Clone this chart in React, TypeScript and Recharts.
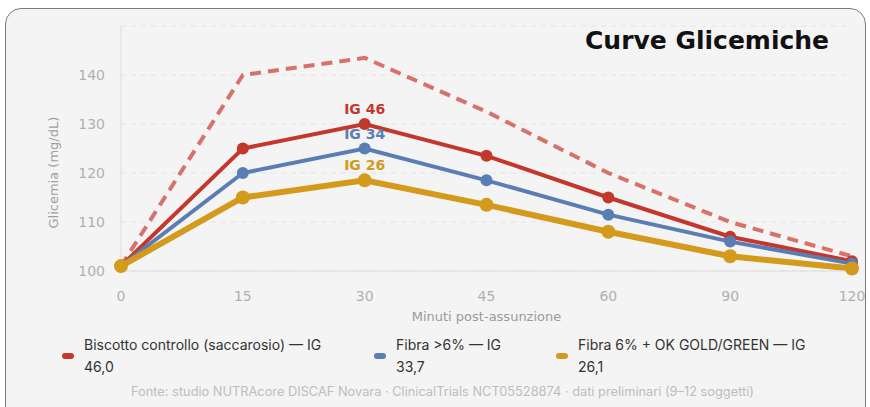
import { CartesianGrid, Line, LineChart, XAxis, YAxis } from "recharts"

const minutes = ["0", "15", "30", "45", "60", "90", "120"]
const riferimento = [101, 140, 143.5, 132.5, 120, 110, 103]
const biscotto = [101, 125, 130, 123.5, 115, 107, 102]
const fibra = [101, 120, 125, 118.5, 111.5, 106, 101.5]
const okGold = [101, 115, 118.5, 113.5, 108, 103, 100.5]
const yTicks = [100, 110, 120, 130, 140]

const series = [
  { key: "biscotto", color: "#c4372c", ig: "IG 46", legend: ["Biscotto controllo (saccarosio) — IG", "46,0"], width: 4, r: 6 },
  { key: "fibra", color: "#5a7db3", ig: "IG 34", legend: ["Fibra >6% — IG", "33,7"], width: 4, r: 6 },
  { key: "okGold", color: "#d39a1c", ig: "IG 26", legend: ["Fibra 6% + OK GOLD/GREEN — IG", "26,1"], width: 6, r: 7 },
]

const data = minutes.map((m, i) => ({
  min: m,
  riferimento: riferimento[i],
  biscotto: biscotto[i],
  fibra: fibra[i],
  okGold: okGold[i],
}))

const legendX = [62, 374, 556]

function peakLabel(text: string, color: string) {
  return (props: any) => {
    if (props.index !== 2) return null
    return (
      <text x={props.x} y={props.y - 10} fill={color} textAnchor="middle" fontSize={14} fontWeight={700} fontFamily="DejaVu Sans">
        {text}
      </text>
    )
  }
}

export default function App() {
  return (
    <div style={{ position: "absolute", left: 0, top: 0, width: 870, height: 407, overflow: "hidden", background: "#fff" }}>
      <div
        style={{
          position: "absolute",
          left: 5,
          top: 8,
          width: 859,
          height: 420,
          border: "1.5px solid #7a7d80",
          borderRadius: 16,
          background: "#f4f4f4",
        }}
      />
      <LineChart
        width={870}
        height={330}
        data={data}
        margin={{ top: 26, right: 18, bottom: 9, left: 61 }}
        style={{ position: "absolute", left: 0, top: 0 }}
      >
        <CartesianGrid vertical={false} stroke="#e4e4e4" strokeDasharray="5 5" />
        <XAxis
          dataKey="min"
          stroke="#dcdcdc"
          tickLine={false}
          tickMargin={14}
          height={50}
          tick={{ fill: "#b0b0b0", fontSize: 14, fontFamily: "DejaVu Sans" }}
          label={{ value: "Minuti post-assunzione", position: "insideBottom", offset: 0, fill: "#9a9a9a", fontSize: 13, fontFamily: "DejaVu Sans" }}
        />
        <YAxis
          domain={[100, 150]}
          ticks={yTicks}
          stroke="#dcdcdc"
          tickLine={false}
          tickMargin={10}
          width={60}
          tick={{ fill: "#b0b0b0", fontSize: 14, fontFamily: "DejaVu Sans" }}
          label={{ value: "Glicemia (mg/dL)", angle: -90, position: "insideLeft", offset: -8, dy: 80, fill: "#a0a0a0", fontSize: 13, fontFamily: "DejaVu Sans" }}
        />
        <Line
          dataKey="riferimento"
          stroke="#d8716a"
          strokeWidth={4}
          strokeDasharray="11 7"
          dot={false}
          activeDot={false}
          isAnimationActive={false}
        />
        {series.map((s) => (
          <Line
            key={s.key}
            dataKey={s.key}
            stroke={s.color}
            strokeWidth={s.width}
            dot={{ r: s.r, fill: s.color, stroke: s.color, strokeWidth: 0 }}
            activeDot={false}
            label={peakLabel(s.ig, s.color)}
            isAnimationActive={false}
          />
        ))}
      </LineChart>
      <div
        style={{
          position: "absolute",
          left: 585,
          top: 26,
          fontFamily: "DejaVu Sans",
          fontWeight: 700,
          fontSize: 25,
          color: "#111",
        }}
      >
        Curve Glicemiche
      </div>
      {series.map((s, i) => (
        <div
          key={s.key}
          style={{ position: "absolute", left: legendX[i], top: 334, display: "flex", alignItems: "center", fontFamily: "Inter", fontSize: 14, color: "#333", lineHeight: "22px" }}
        >
          <span style={{ width: 12, height: 6, borderRadius: 3, background: s.color, marginRight: 10 }} />
          <span>
            {s.legend[0]}
            <br />
            {s.legend[1]}
          </span>
        </div>
      ))}
      <div
        style={{ position: "absolute", left: 0, width: 885, top: 384, textAlign: "center", fontFamily: "Inter", fontSize: 12.8, color: "#bdbdbd" }}
      >
        Fonte: studio NUTRAcore DISCAF Novara · ClinicalTrials NCT05528874 · dati preliminari (9–12 soggetti)
      </div>
    </div>
  )
}
